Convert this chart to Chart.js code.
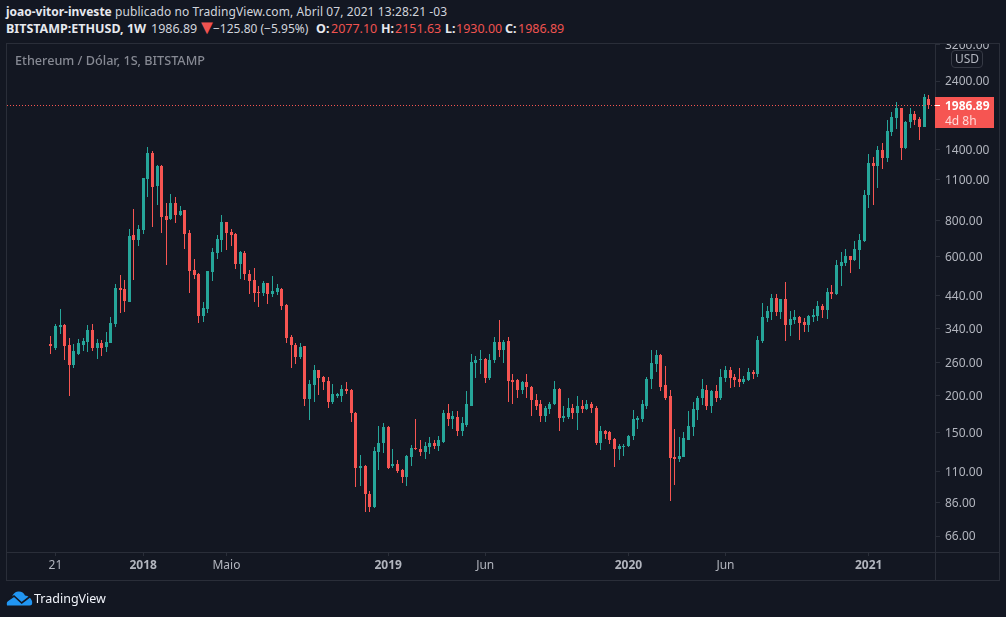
<!DOCTYPE html>
<html>
<head>
<meta charset="utf-8">
<title>ETHUSD</title>
<script src="https://cdn.jsdelivr.net/npm/chart.js@4/dist/chart.umd.min.js"></script>
<style>
  html, body { margin: 0; padding: 0; background: #131722; }
  body { width: 1006px; height: 617px; position: relative; overflow: hidden; font-family: "Noto Sans", sans-serif; }
  canvas { position: absolute; left: 0; top: 0; }
  .abs { position: absolute; white-space: nowrap; }
  #header { left: 0; top: 0; width: 1006px; height: 43px; background: #131722; color: #d1d4dc; font-size: 12px; }
  #line1 { position: absolute; left: 6px; top: 3px; line-height: 18px; letter-spacing: 0.09px; }
  #line1 b { letter-spacing: 0; }
  #line2 span, #line2 b { position: absolute; top: 20px; line-height: 18px; font-size: 12.5px; }
  #header b { color: #e6e8ee; font-weight: 700; }
  #line2 .neg { color: #ef5350; }
  #line2 .tri { font-size: 20px; top: 18px; color: #ef5350; }
  #title { left: 15px; top: 52px; line-height: 17px; font-size: 12.65px; font-weight: 500; color: #868993; }
  #usd { left: 951px; top: 50px; width: 30px; height: 16px; border: 1px solid #363a45; border-radius: 4px; background: #131722;
         color: #b2b5be; font-size: 12px; line-height: 16px; text-align: center; }
  #tag { left: 935px; top: 97px; width: 59px; height: 31px; background: #f65552; color: #fff; font-size: 12px; }
  #tag .p { position: absolute; left: 10px; top: 0; line-height: 17px; font-weight: 700; }
  #tag .t { position: absolute; left: 10px; top: 16px; line-height: 16px; color: #ffd9d8; }
  #tag .m { position: absolute; left: 0; top: 8px; width: 5px; height: 1px; background: #fff; }
  #logo { left: 6px; top: 591px; }
  #brand { left: 34px; top: 590px; line-height: 18px; font-size: 12.5px; color: #f0f3fa; }
</style>
</head>
<body>
<canvas id="chart" width="1006" height="617"></canvas>
<div class="abs" id="header">
  <div id="line1"><b>joao-vitor-investe</b> publicado no TradingView.com, Abril 07, 2021 13:28:21 -03</div>
  <div id="line2">
    <b style="left:6px">BITSTAMP:ETHUSD, 1W</b>
    <span style="left:151px">1986.89</span>
    <span class="tri" style="left:197px">▼</span>
    <span style="left:213px;font-size:12px">−125.80 (−5.95%)</span>
    <b style="left:316px">O:</b><span class="neg" style="left:331px">2077.10</span>
    <b style="left:381px">H:</b><span class="neg" style="left:395px">2151.63</span>
    <b style="left:445px">L:</b><span class="neg" style="left:456px">1930.00</span>
    <b style="left:505px">C:</b><span class="neg" style="left:518px">1986.89</span>
  </div>
</div>
<div class="abs" id="title">Ethereum / Dólar, 1S, BITSTAMP</div>
<div class="abs" id="usd">USD</div>
<div class="abs" id="tag"><i class="m"></i><span class="p">1986.89</span><span class="t">4d 8h</span></div>
<svg class="abs" id="logo" width="27" height="15" viewBox="0 0 27 15">
  <path d="M1 14.5 Q0 11 3 8.5 L6 6 Q7.5 1 12 0.5 Q17 0 19 4.5 Q24 5 26 10 Q27 14.5 23.5 14.5 Z" fill="#2196f3"/>
  <polyline points="0.7,10 8,5 15.7,12 24.7,5" fill="none" stroke="#131722" stroke-width="1.6"/>
</svg>
<div class="abs" id="brand">TradingView</div>

<script>
'use strict';

// Weekly candles, Aug 2017 to Apr 2021
const opens = [
  300, 291, 343, 349, 298, 254, 279, 298, 305, 335,
  291, 303, 293, 303, 352, 468, 464, 419, 711, 683,
  739, 1106, 1358, 1047, 1226, 826, 806, 915, 832, 866,
  722, 539, 522, 375, 396, 530, 617, 683, 788, 728,
  716, 565, 617, 522, 498, 453, 449, 486, 445, 453,
  464, 409, 317, 298, 271, 295, 195, 217, 244, 231,
  224, 190, 200, 200, 211, 209, 175, 113, 115, 92,
  83, 128, 138, 156, 115, 117, 111, 105, 123, 132,
  131, 128, 133, 138, 134, 139, 174, 166, 169, 151,
  159, 185, 258, 266, 268, 230, 266, 305, 288, 308,
  226, 226, 209, 222, 215, 194, 187, 170, 180, 187,
  211, 168, 169, 181, 174, 184, 180, 188, 182, 138,
  151, 150, 142, 131, 133, 134, 145, 165, 166, 185,
  228, 256, 275, 217, 199, 123, 121, 123, 141, 156,
  178, 196, 209, 185, 207, 197, 230, 244, 231, 228,
  222, 226, 242, 237, 308, 369, 387, 432, 387, 428,
  349, 363, 372, 358, 349, 372, 375, 405, 393, 453,
  445, 556, 570, 602, 583, 631, 678, 975, 1255, 1226,
  1391, 1305, 1604, 1791, 1938, 1413, 1735, 1849, 1777, 1668, 2077.10
];
const closes = [
  295, 346, 349, 295, 254, 284, 303, 308, 335, 291,
  303, 291, 305, 355, 468, 460, 422, 705, 683, 745,
  1115, 1358, 1039, 1226, 819, 800, 915, 832, 859, 716,
  535, 518, 375, 399, 535, 621, 688, 788, 722, 711,
  565, 621, 522, 494, 449, 449, 486, 445, 456, 468,
  405, 315, 298, 271, 293, 195, 219, 244, 230, 222,
  190, 202, 203, 211, 207, 174, 113, 115, 92, 83,
  129, 138, 156, 113, 117, 110, 105, 124, 132, 131,
  128, 134, 138, 134, 141, 174, 166, 170, 151, 161,
  188, 260, 266, 268, 230, 266, 305, 286, 305, 224,
  222, 209, 222, 214, 193, 184, 170, 181, 188, 211,
  168, 170, 181, 174, 184, 180, 188, 182, 138, 151,
  148, 141, 131, 134, 134, 146, 166, 168, 188, 228,
  258, 275, 215, 197, 122, 121, 124, 143, 158, 180,
  197, 211, 185, 207, 197, 231, 244, 230, 226, 222,
  228, 242, 237, 310, 372, 390, 432, 387, 428, 349,
  366, 372, 355, 349, 375, 378, 405, 393, 453, 445,
  561, 574, 602, 583, 636, 683, 975, 1255, 1226, 1391,
  1305, 1617, 1805, 1938, 1413, 1735, 1849, 1763, 1668, 2112.69, 1986.89
];
const highs = [
  320, 352, 396, 352, 315, 300, 312, 315, 349, 352,
  312, 310, 330, 372, 483, 518, 498, 745, 873, 769,
  1120, 1424, 1380, 1235, 1235, 915, 983, 960, 894, 866,
  739, 588, 526, 419, 535, 641, 711, 832, 790, 745,
  722, 626, 626, 539, 548, 475, 494, 488, 514, 483,
  468, 412, 322, 303, 303, 296, 226, 254, 245, 233,
  231, 219, 205, 217, 222, 211, 176, 125, 116, 94,
  133, 158, 161, 157, 131, 120, 112, 125, 135, 166,
  141, 139, 144, 141, 145, 179, 187, 177, 177, 169,
  207, 279, 273, 288, 269, 279, 317, 363, 310, 317,
  237, 228, 224, 238, 216, 203, 194, 184, 190, 224,
  212, 185, 197, 188, 199, 193, 194, 190, 184, 157,
  152, 151, 143, 137, 137, 147, 178, 170, 193, 231,
  288, 286, 277, 252, 209, 154, 144, 150, 177, 190,
  199, 228, 217, 209, 217, 246, 252, 250, 237, 248,
  233, 248, 244, 320, 416, 405, 445, 445, 429, 490,
  390, 393, 375, 369, 378, 396, 422, 412, 468, 479,
  583, 621, 636, 604, 678, 716, 1014, 1348, 1316, 1435,
  1470, 1763, 1878, 2033, 1945, 1749, 1938, 1893, 1805, 2170, 2151.63
];
const lows = [
  277, 288, 325, 266, 199, 248, 275, 284, 282, 284,
  268, 273, 282, 303, 343, 384, 387, 419, 498, 652,
  716, 960, 757, 901, 722, 561, 800, 781, 826, 636,
  449, 502, 355, 358, 384, 494, 588, 621, 631, 652,
  543, 502, 498, 445, 419, 402, 439, 412, 435, 442,
  393, 303, 248, 256, 268, 184, 165, 190, 201, 209,
  182, 188, 196, 190, 202, 163, 97, 98, 80, 80,
  82.5, 111, 127, 112, 113, 109, 100, 98, 115, 130,
  124, 121, 126, 131, 129, 138, 157, 154, 145, 146,
  156, 184, 230, 237, 221, 226, 258, 271, 258, 190,
  188, 196, 202, 196, 171, 178, 162, 163, 173, 186.5,
  151, 163, 167, 166, 152, 175, 178, 175, 136, 130,
  142, 137, 114, 120, 124, 133, 141, 154, 163, 180,
  211, 241, 207, 194, 87, 99, 118, 123, 141, 146,
  165, 186, 178, 174, 190, 194, 222, 212, 215, 214,
  219, 224, 228, 231, 303, 358, 363, 375, 366, 308,
  320, 352, 310, 330, 330, 358, 360, 369, 366, 428,
  442, 475, 556, 526, 578, 543, 673, 880, 901, 1030,
  1197, 1265, 1553, 1642, 1285, 1402, 1655, 1695, 1505, 1668, 1930
];

const priceTicks = [3200, 2400, 1400, 1100, 800, 600, 440, 340, 260, 200, 150, 110, 86, 66];
const timeTickIndex = [1, 20, 38, 73, 94, 125, 146, 177];
const timeTickLabels = ['21', '2018', 'Maio', '2019', 'Jun', '2020', 'Jun', '2021'];
const lastPrice = 1986.89;

const upColor = '#26a69a',
  downColor = '#f65552',
  lineColor = '#2a2e39',
  labelColor = '#b2b5be';

const candleColor = function (i) {
  return closes[i] >= opens[i] ? upColor : downColor;
};

// TradingView keeps candles on whole pixels, bars do not by default
const snapCandles = {
  id: 'snapCandles',
  afterDatasetsUpdate: function (chart) {
    chart.getSortedVisibleDatasetMetas().forEach(function (meta) {
      meta.data.forEach(function (bar) {
        bar.x = Math.floor(bar.x) + 0.5;
        bar.y = Math.round(bar.y);
        bar.base = Math.round(bar.base);
        if (bar.y === bar.base) {
          bar.base = bar.y + 1;
        }
      });
    });
  }
};

// frame around the panes and the dotted last price line
const framePlugin = {
  id: 'framePlugin',
  afterDraw: function (chart) {
    const ctx = chart.ctx;
    const area = chart.chartArea;
    const y = Math.round(chart.scales.y.getPixelForValue(lastPrice)) + 0.5;
    ctx.save();
    ctx.fillStyle = lineColor;
    ctx.fillRect(6, 43, 994, 1);
    ctx.fillRect(6, 552, 994, 1);
    ctx.fillRect(6, 580, 994, 1);
    ctx.fillRect(6, 43, 1, 538);
    ctx.fillRect(935, 43, 1, 538);
    ctx.fillRect(999, 43, 1, 538);
    ctx.strokeStyle = downColor;
    ctx.lineWidth = 1;
    ctx.setLineDash([1, 2]);
    ctx.beginPath();
    ctx.moveTo(area.left + 1, y);
    ctx.lineTo(area.right, y);
    ctx.stroke();
    ctx.restore();
  }
};

new Chart(document.getElementById('chart'), {
  type: 'bar',
  data: {
    datasets: [
      {
        label: 'wick',
        data: lows.map(function (low, i) {
          return { x: i, y: [low, highs[i]] };
        }),
        backgroundColor: opens.map(function (o, i) { return candleColor(i); }),
        barThickness: 1
      },
      {
        label: 'body',
        data: opens.map(function (o, i) {
          return { x: i, y: [o, closes[i]] };
        }),
        backgroundColor: opens.map(function (o, i) { return candleColor(i); }),
        barThickness: 3
      }
    ]
  },
  options: {
    responsive: false,
    animation: false,
    events: [],
    datasets: { bar: { grouped: false, inflateAmount: 0 } },
    layout: { padding: { left: 6, top: 43, right: 7, bottom: 37 } },
    plugins: {
      legend: { display: false },
      tooltip: { enabled: false }
    },
    scales: {
      x: {
        type: 'linear',
        offset: false,
        bounds: 'data',
        min: -9.695,
        max: 191.34,
        afterFit: function (scale) { scale.height = 28; },
        afterBuildTicks: function (scale) {
          scale.ticks = timeTickIndex.map(function (v) { return { value: v }; });
        },
        border: { display: false },
        grid: { offset: false, drawOnChartArea: false, drawTicks: true, tickLength: 4, color: lineColor },
        ticks: {
          autoSkip: false,
          maxRotation: 0,
          padding: 2,
          color: labelColor,
          font: function (context) {
            const isYear = context.tick && /^\d{4}$/.test(context.tick.label);
            return { family: '"Noto Sans", sans-serif', size: 12, weight: isYear ? 'bold' : 'normal' };
          },
          callback: function (value) {
            return timeTickLabels[timeTickIndex.indexOf(value)];
          }
        }
      },
      y: {
        type: 'logarithmic',
        position: 'right',
        bounds: 'data',
        min: 58.2,
        max: 3240,
        afterFit: function (scale) { scale.width = 64; },
        afterBuildTicks: function (scale) {
          scale.ticks = priceTicks.map(function (v) { return { value: v }; });
        },
        border: { display: false },
        grid: { drawOnChartArea: false, drawTicks: true, tickLength: 5, color: lineColor },
        ticks: {
          autoSkip: false,
          padding: 5,
          labelOffset: 1,
          color: labelColor,
          font: { family: '"Noto Sans", sans-serif', size: 12 },
          callback: function (value) {
            return Number(value).toFixed(2);
          }
        }
      }
    }
  },
  plugins: [snapCandles, framePlugin]
});
</script>
</body>
</html>
